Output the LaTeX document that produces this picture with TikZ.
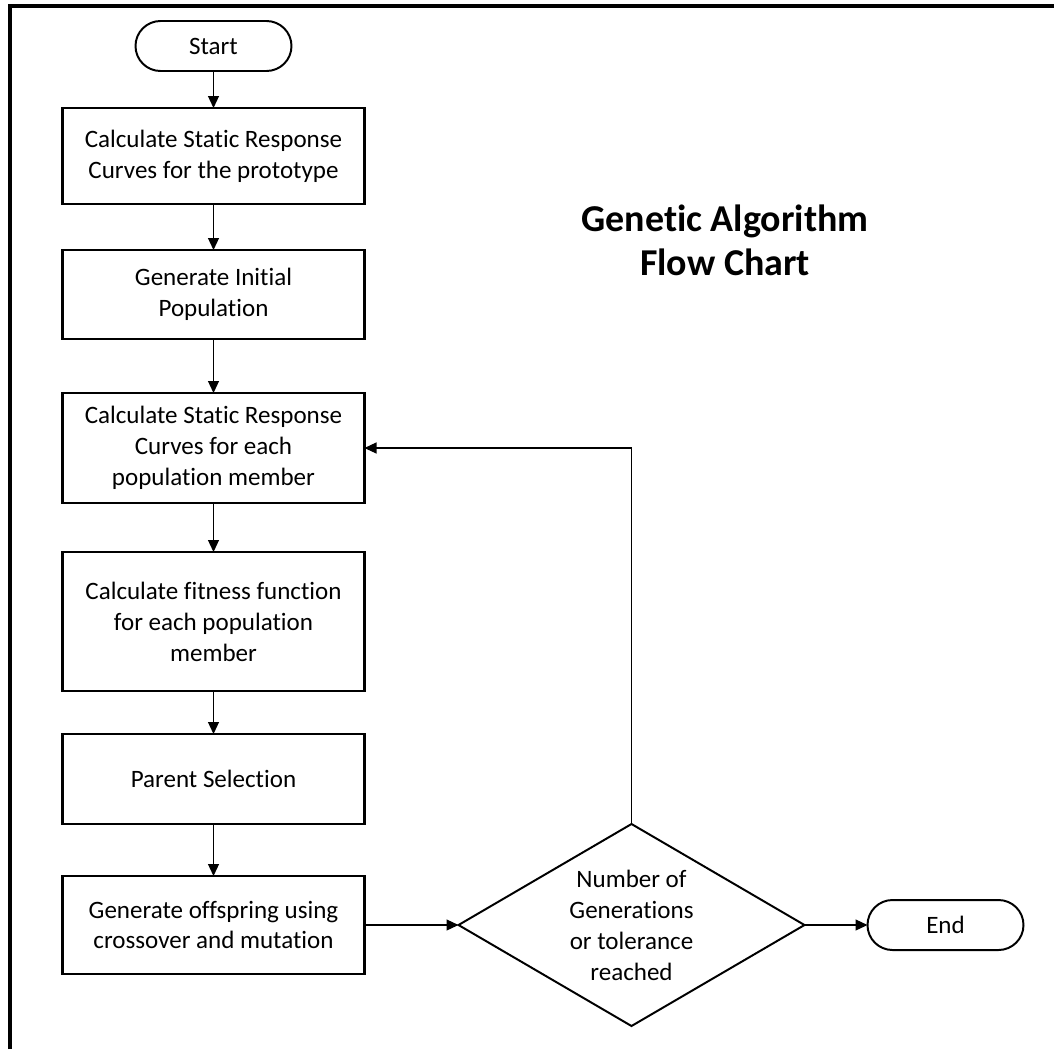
\documentclass[tikz,border=0pt]{standalone}
\usepackage{fontspec}
\setmainfont[Ligatures=CommonOff]{Carlito}
\usepackage{tikz}
\usetikzlibrary{shapes.geometric, arrows.meta, positioning}

\begin{document}
\begin{tikzpicture}[
    node distance=1.2cm and 2.35cm,
    block/.style={rectangle, draw, line width=1.8pt, minimum width=7.55cm, text centered, align=center, inner sep=0pt, outer sep=0pt, font=\fontsize{17.8pt}{22pt}\selectfont},
    term/.style={rectangle, draw, rounded corners=0.625cm, line width=1.4pt, minimum width=3.9cm, minimum height=1.25cm, inner sep=0pt, outer sep=0pt, font=\fontsize{17.8pt}{22pt}\selectfont},
    decision/.style={diamond, draw, aspect=1.71, line width=1.4pt, minimum width=8.65cm, minimum height=5.05cm, align=center, inner sep=0pt, outer sep=0pt, font=\fontsize{17.8pt}{22pt}\selectfont},
    arrow/.style={line width=0.85pt, -{Triangle[length=3mm, width=2.75mm]}}
]
    \useasboundingbox (0,0) rectangle (26.35,-26.225);
    \draw [line width=2.2pt] (0.25,-26.225) |- (26.35,-0.15);

    \node [term] (start) at (5.3375,-1.15) {Start};
    \node [block, minimum height=2.4cm, below=0.925cm of start] (calc) {Calculate Static Response\\Curves for the prototype};
    \node [block, minimum height=2.225cm, below=1.15cm of calc] (init) {Generate Initial\\Population};
    \node [block, minimum height=2.75cm, below=1.35cm of init] (resp) {Calculate Static Response\\Curves for each\\population member};
    \node [block, minimum height=3.475cm, below=1.225cm of resp] (fit) {Calculate fitness function\\for each population\\member};
    \node [block, minimum height=2.25cm, below=1.075cm of fit] (sel) {Parent Selection};
    \node [block, minimum height=2.45cm, below=1.3cm of sel] (off) {Generate offspring using\\crossover and mutation};

    \node [decision, right=of off] (check) {Number of\\Generations\\or tolerance\\reached};
    \node [term, right=1.575cm of check] (finish) {End};

    \node [align=center, font=\fontsize{27pt}{31.5pt}\selectfont\bfseries] (title) at (18.125,-6.0) {Genetic Algorithm\\Flow Chart};

    \draw [arrow] (start) -- (calc);
    \draw [arrow] (calc) -- (init);
    \draw [arrow] (init) -- (resp);
    \draw [arrow] (resp) -- (fit);
    \draw [arrow] (fit) -- (sel);
    \draw [arrow] (sel) -- (off);
    \draw [arrow] (off) -- (check);
    \draw [arrow] (check) -- (finish);
    \draw [arrow] (check.north) |- (resp.east);
\end{tikzpicture}
\end{document}
